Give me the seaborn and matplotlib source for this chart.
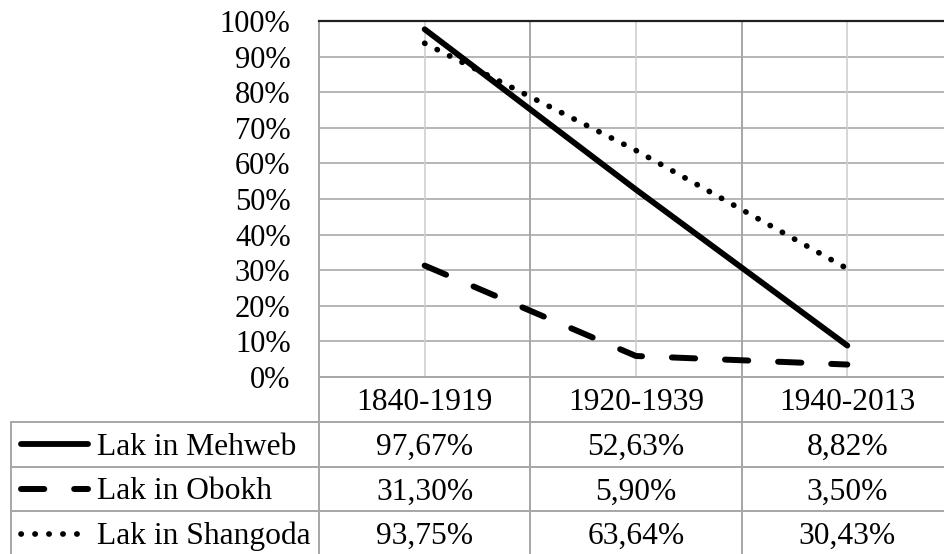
import numpy as np
import pandas as pd
import matplotlib
matplotlib.use("Agg")
import matplotlib.pyplot as plt
import seaborn as sns

# ---- data ----
periods = ["1840-1919", "1920-1939", "1940-2013"]
series_names = ["Lak in Mehweb", "Lak in Obokh", "Lak in Shangoda"]
mehweb = [97.67, 52.63, 8.82]
obokh = [31.30, 5.90, 3.50]
shangoda = [93.75, 63.64, 30.43]
y_ticks = [0, 10, 20, 30, 40, 50, 60, 70, 80, 90, 100]

sns.set_theme(style="white")
plt.rcParams['font.family'] = ['Liberation Serif', 'DejaVu Serif']

W, H = 944, 554
fig = plt.figure(figsize=(W / 100, H / 100), dpi=100)
fig.patch.set_facecolor("white")


def rect(x0, y0, x1, y1):
    return [x0 / W, 1 - y1 / H, (x1 - x0) / W, (y1 - y0) / H]


cat_w = 211.33
left_px = 319
right_px = left_px + 3 * cat_w
top_px, bottom_px = 21, 377
FS = 22.7
GRID_MAJOR = "#a6a6a6"
GRID_MINOR = "#cfcfcf"

ax = fig.add_axes(rect(left_px, top_px, right_px, bottom_px))
ax.set_facecolor("white")

line_styles = {
    "Lak in Mehweb": (4.2, None),
    "Lak in Obokh": (4.3, (3.9, 5.0)),
    "Lak in Shangoda": (4.1, (0.05, 2.4)),
}
all_vals = [mehweb, obokh, shangoda]
for name, vals in zip(series_names, all_vals):
    df = pd.DataFrame({"period": periods, "value": vals})
    lw, dash = line_styles[name]
    sns.lineplot(data=df, x="period", y="value", ax=ax, color="black",
                 linewidth=lw, sort=False, legend=False, zorder=5)
    ln = ax.lines[-1]
    ln.set_solid_capstyle("round")
    ln.set_dash_capstyle("round")
    ln.set_solid_joinstyle("round")
    if dash is not None:
        ln.set_dashes(dash)
    ln.set_clip_on(False)

ax.set_xlim(-0.5, 2.5)
ax.set_ylim(0, 100)
ax.set_xticks([])
ax.set_xlabel("")
ax.set_ylabel("")
ax.set_yticks(y_ticks)
ax.set_yticklabels([f"{t}%" for t in y_ticks])
ax.tick_params(axis="y", length=0, pad=20.5, labelsize=22, labelcolor="black")

# gridlines
for t in y_ticks[1:-1]:
    ax.axhline(t, color="#b0b0b0", lw=1.3, zorder=1)
for i in range(len(periods)):
    ax.axvline(i, color=GRID_MINOR, lw=1.2, zorder=1)
for b in [0.5, 1.5]:
    ax.axvline(b, color=GRID_MAJOR, lw=1.4, zorder=1)

for s in ["right"]:
    ax.spines[s].set_visible(False)
ax.spines["top"].set_color("#202020")
ax.spines["top"].set_linewidth(1.6)
ax.spines["left"].set_color(GRID_MAJOR)
ax.spines["left"].set_linewidth(1.4)
ax.spines["bottom"].set_color(GRID_MAJOR)
ax.spines["bottom"].set_linewidth(1.4)

# ---- data table ----
tab_left_px = 11
ax_t = fig.add_axes(rect(tab_left_px, bottom_px, right_px, 556))
x_left = -0.5 - (left_px - tab_left_px) / cat_w
ax_t.set_xlim(x_left, 2.5)
ax_t.set_ylim(4, 0)
ax_t.axis("off")


def px2x(px):
    return -0.5 + (px - left_px) / cat_w


base_off = 0.235
# header row
for i, p in enumerate(periods):
    ax_t.text(i, 0.5 + base_off, p, ha="center", va="baseline", fontsize=FS, color="black")

# rows
for r, (name, vals) in enumerate(zip(series_names, all_vals), start=1):
    yc = r + 0.5
    for i, v in enumerate(vals):
        ax_t.text(i, yc + base_off, f"{v:.2f}".replace(".", ",") + "%",
                  ha="center", va="baseline", fontsize=FS, color="black")
    ax_t.text(px2x(97), yc + base_off, name, ha="left", va="baseline",
              fontsize=FS, color="black")
    lw, dash = line_styles[name]
    key = ax_t.plot([px2x(21), px2x(88)], [yc, yc], color="black", lw=lw)[0]
    key.set_solid_capstyle("round")
    key.set_dash_capstyle("round")
    if dash is not None:
        key.set_dashes(dash)

# table borders
for yl in [1, 2, 3, 4]:
    ax_t.plot([x_left, 2.5], [yl, yl], color=GRID_MAJOR, lw=1.4, clip_on=False)
for xl in [-0.5, 0.5, 1.5]:
    ax_t.plot([xl, xl], [0, 4], color=GRID_MAJOR, lw=1.4, clip_on=False)
ax_t.plot([x_left, x_left], [1, 4], color=GRID_MAJOR, lw=1.4, clip_on=False)

fig.savefig("out.png", dpi=100, facecolor="white")
